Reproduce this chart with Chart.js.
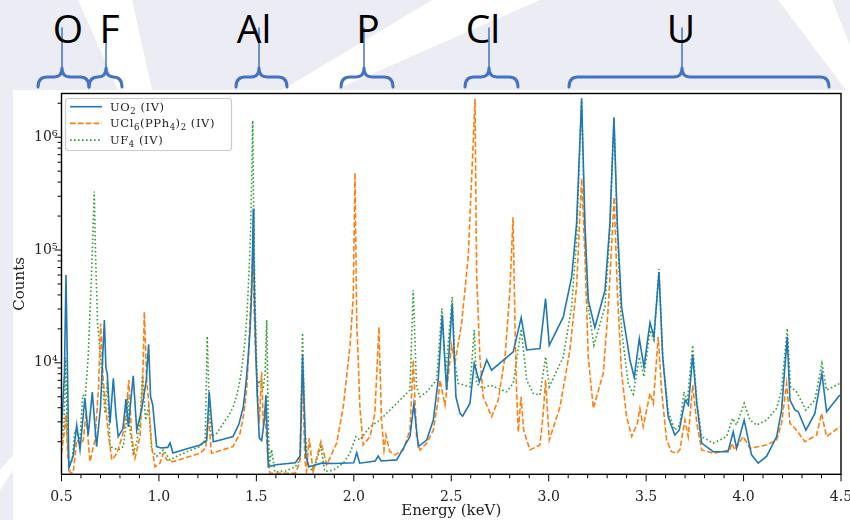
<!DOCTYPE html>
<html><head><meta charset="utf-8">
<script src="https://cdn.jsdelivr.net/npm/chart.js@4.4.1/dist/chart.umd.min.js"></script>
<style>
html,body{margin:0;padding:0;width:850px;height:520px;overflow:hidden;background:#ECECF4}
svg{position:absolute;left:0;top:0}
#fig{position:absolute;left:13px;top:90px;width:837px;height:430px;background:#fff}
#wrap{position:absolute;left:0;top:0;width:850px;height:520px}
</style></head><body>
<svg width="850" height="520">
<rect width="850" height="520" fill="#ECECF4"/>
<polygon points="78,0 132,0 152,90 118,90" fill="#ffffff"/>
<polygon points="432,0 540,0 335,90 282,90" fill="#ffffff"/>
<polygon points="778,0 832,0 850,45 850,90 846,90" fill="#ffffff"/>
<polygon points="0,470 13,455 13,470 0,490" fill="#ffffff"/>
</svg>
<div id="fig"></div>
<svg width="850" height="90" id="top">
<g stroke="#4472C4" fill="none" stroke-linecap="round" stroke-linejoin="round">
<g stroke-width="1.5">
<line x1="62" y1="28" x2="62" y2="69"/><line x1="106" y1="28" x2="106" y2="69"/>
<line x1="259" y1="28" x2="259" y2="69"/><line x1="364" y1="28" x2="364" y2="69"/>
<line x1="489" y1="28" x2="489" y2="69"/><line x1="682" y1="28" x2="682" y2="69"/>
</g>
<g stroke-width="3" id="braces"></g>
</g>
<g font-family="Open Sans" font-size="39" fill="#000" text-anchor="middle">
<text x="68" y="43">O</text><text x="109.5" y="43">F</text><text x="254" y="43">Al</text>
<text x="368" y="43">P</text><text x="483" y="43">Cl</text><text x="681" y="43">U</text>
</g>
</svg>
<div id="wrap"><canvas id="c" width="850" height="520"></canvas></div>
<script>
// ---- data (energy keV, counts) ----
const seriesLabels = ['UO\u2082 (IV)', 'UCl\u2086(PPh\u2084)\u2082 (IV)', 'UF\u2084 (IV)'];

const uo2E = [0.500,0.515,0.523,0.531,0.538,0.560,0.578,0.595,0.620,0.637,0.658,0.680,0.700,0.712,0.720,0.728,0.735,0.749,0.766,0.779,0.791,0.815,0.831,0.843,0.868,0.886,0.911,0.935,0.947,0.957,0.968,0.988,1.010,1.045,1.057,1.072,1.140,1.211,1.245,1.258,1.279,1.330,1.380,1.410,1.433,1.448,1.458,1.468,1.476,1.480,1.484,1.487,1.491,1.498,1.506,1.515,1.527,1.540,1.549,1.561,1.600,1.700,1.725,1.737,1.754,1.770,1.835,1.900,2.000,2.015,2.030,2.110,2.125,2.140,2.220,2.288,2.308,2.331,2.374,2.408,2.433,2.454,2.476,2.505,2.524,2.545,2.558,2.596,2.618,2.644,2.682,2.707,2.818,2.859,2.887,2.955,2.984,3.003,3.075,3.118,3.143,3.169,3.186,3.203,3.237,3.289,3.314,3.335,3.352,3.374,3.417,3.439,3.465,3.489,3.520,3.540,3.566,3.585,3.613,3.647,3.670,3.700,3.717,3.739,3.760,3.785,3.844,3.920,3.947,3.964,4.003,4.041,4.075,4.118,4.170,4.195,4.224,4.238,4.264,4.280,4.320,4.366,4.402,4.426,4.494];
const uo2C = [2500,8000,60000,8000,1170,1500,2800,1700,4900,2290,5500,1810,4000,12000,23900,9000,8000,2920,7300,3500,2220,2600,4770,2700,7670,2530,3810,7000,14600,5000,4250,1810,1760,1780,1950,1590,1720,1870,2050,5530,2000,2100,2220,2850,4080,7000,11300,20000,44000,90000,233000,95000,35000,11300,4500,2150,2050,3000,5180,1200,1250,1300,1500,11700,1480,1200,1290,1280,1300,1600,1290,1350,1490,1350,1380,2220,4300,1810,2070,3110,7030,26400,5730,33600,5000,3560,3370,4370,9880,6790,10600,8620,12500,25200,13000,13400,37100,14300,25500,57700,171000,2200000,171000,35900,20600,44000,171000,1500000,171000,31400,10600,7430,16400,9220,22800,17000,63800,11300,3340,2290,2530,4680,4220,11700,4370,1940,1630,1630,2450,1750,3110,1530,1290,1480,2220,3810,17000,4680,3810,3700,2530,3560,8060,3690,5180];

const uclE = [0.500,0.515,0.523,0.532,0.545,0.560,0.578,0.600,0.612,0.626,0.646,0.672,0.690,0.701,0.714,0.740,0.758,0.785,0.821,0.846,0.860,0.877,0.903,0.917,0.925,0.937,0.945,0.963,0.980,1.005,1.022,1.040,1.072,1.140,1.211,1.240,1.253,1.270,1.330,1.380,1.416,1.435,1.450,1.459,1.466,1.474,1.481,1.487,1.493,1.505,1.515,1.527,1.535,1.546,1.558,1.570,1.700,1.722,1.735,1.749,1.757,1.771,1.791,1.831,1.861,1.912,1.946,1.980,1.997,2.006,2.015,2.022,2.031,2.048,2.083,2.108,2.129,2.142,2.155,2.165,2.185,2.211,2.254,2.288,2.305,2.322,2.339,2.374,2.408,2.433,2.442,2.468,2.502,2.519,2.553,2.587,2.613,2.622,2.630,2.647,2.664,2.682,2.707,2.741,2.776,2.801,2.817,2.827,2.835,2.844,2.858,2.872,2.887,2.904,2.955,2.972,2.984,3.003,3.058,3.109,3.143,3.169,3.186,3.203,3.229,3.280,3.306,3.336,3.352,3.374,3.400,3.426,3.455,3.468,3.485,3.520,3.537,3.562,3.579,3.605,3.630,3.656,3.673,3.699,3.716,3.739,3.760,3.785,3.844,3.930,3.939,3.956,3.998,4.033,4.118,4.170,4.195,4.221,4.238,4.264,4.315,4.375,4.400,4.426,4.494];
const uclC = [1580,2500,3500,1500,1060,1060,2070,1900,2070,3560,1330,2070,6000,22300,7000,2370,1380,1580,2530,7030,2220,1430,2220,7030,28300,7030,5000,1810,1200,1290,1580,1380,1330,1450,1580,1760,3330,1580,1700,1810,2370,3500,5730,11000,22300,46000,93000,38000,15900,5730,2900,8320,3000,3330,1480,1050,1050,1300,7800,1380,1090,2140,1090,2000,1250,1940,4080,13900,38400,483000,22300,11300,4080,1870,2220,3560,20800,3110,1690,2290,1630,1530,1690,2530,10600,2220,1690,1940,2530,4680,7030,4220,14300,9900,22300,86600,930000,2190000,61900,11300,5000,4220,3330,4680,11300,44000,195000,22300,5730,2450,5000,2500,2070,1690,1870,3560,7030,2070,4080,13000,47000,430000,87000,11300,3950,8060,31400,295000,44000,8060,3330,2220,2900,3950,2720,5360,4370,17000,5730,2070,1630,1580,1690,3110,2220,6350,2910,1690,1580,1690,1940,1690,2220,1750,1870,2070,2910,6570,2910,2630,2000,2290,3560,2220,2720];

const uf4E = [0.500,0.513,0.521,0.529,0.538,0.555,0.569,0.578,0.595,0.609,0.622,0.637,0.651,0.660,0.668,0.675,0.685,0.706,0.723,0.735,0.749,0.766,0.791,0.817,0.834,0.840,0.852,0.868,0.886,0.903,0.915,0.932,0.947,0.963,0.988,1.022,1.057,1.090,1.150,1.211,1.237,1.248,1.259,1.270,1.296,1.364,1.381,1.400,1.416,1.430,1.442,1.452,1.458,1.466,1.471,1.476,1.481,1.485,1.489,1.494,1.498,1.505,1.515,1.535,1.545,1.553,1.561,1.566,1.578,1.595,1.650,1.700,1.725,1.737,1.749,1.766,1.791,1.831,1.851,1.895,1.946,1.980,2.011,2.031,2.083,2.134,2.220,2.288,2.305,2.322,2.339,2.374,2.425,2.452,2.471,2.505,2.519,2.536,2.596,2.618,2.630,2.664,2.699,2.784,2.818,2.859,2.887,2.921,2.955,2.984,3.003,3.075,3.118,3.143,3.169,3.186,3.203,3.232,3.289,3.314,3.335,3.352,3.374,3.408,3.434,3.465,3.489,3.520,3.540,3.566,3.585,3.613,3.647,3.673,3.694,3.711,3.739,3.760,3.785,3.844,3.913,3.944,3.964,4.003,4.033,4.067,4.118,4.170,4.195,4.224,4.241,4.272,4.320,4.366,4.402,4.426,4.494];
const uf4C = [1950,3000,11100,2500,1200,1380,2530,2400,2070,5180,5000,11300,44000,122000,330000,87000,22300,8620,3560,7030,1810,1760,1690,1810,3110,5200,2500,1580,1960,3110,8000,3110,4080,1690,1480,1690,1380,1480,1650,1810,2070,17200,3560,2220,2370,3560,4080,5200,7030,10300,15900,27000,44000,90000,171000,420000,1400000,330000,86600,32000,15900,5730,7030,6000,8000,23900,2910,1200,1700,1080,1100,1200,1400,18400,2530,1200,1090,1810,1090,1120,1290,1580,2220,2070,2710,3110,4370,5730,44000,6130,5000,5530,7030,30300,8060,38400,9880,6580,6130,19500,6580,5930,6350,5530,6580,20000,7030,5360,5180,11300,6130,11300,31400,122000,2200000,122000,31400,14300,31400,149000,1450000,149000,19500,6580,5280,11300,7520,19500,15900,68000,11300,3690,2530,2810,5530,4520,14300,4520,2220,1940,2220,3220,2810,4370,3110,2810,3110,3950,5730,20200,6130,5530,3810,4680,9900,5730,6570];

const xRange = [0.5, 4.5];
const yRange = [1028, 2.44e6];
const xMajorLabels = ['0.5','1.0','1.5','2.0','2.5','3.0','3.5','4.0','4.5'];
const xTickValues = [];
for (let i = 5; i <= 45; i++) xTickValues.push(i / 10);
const yTickValues = [];
for (let e = 3; e <= 6; e++) for (let m = 1; m <= 9; m++) { const v = m * Math.pow(10, e); if (v >= yRange[0] && v <= yRange[1]) yTickValues.push(v); }

// braces (decorations above the figure)
const braces = [[38,89,62],[89,122,106],[236,287,259],[341,393,364],[465,518,489],[569,829,682]];
const bg = document.getElementById('braces');
braces.forEach(([a,b,c]) => {
  const p = document.createElementNS('http://www.w3.org/2000/svg','path');
  p.setAttribute('d', `M${a},87 Q${a},77 ${a+9},77 L${c-8},77 Q${c},77 ${c},68 Q${c},77 ${c+8},77 L${b-9},77 Q${b},77 ${b},87`);
  bg.appendChild(p);
});

const toXY = (E, C) => E.map((e, i) => ({x: e, y: C[i]}));
const SUP = {'3':'\u00B3','4':'\u2074','5':'\u2075','6':'\u2076'};
const isMajorY = v => { const e = Math.round(Math.log10(v)); return Math.abs(v - Math.pow(10, e)) < 1e-6 * v; };
const isMajorX = v => Math.abs(v * 2 - Math.round(v * 2)) < 1e-6;

const axesPlugin = {
  id: 'mplAxes',
  afterDatasetsDraw(chart) {
    const {ctx, chartArea: a, scales: {x, y}} = chart;
    ctx.save();
    ctx.strokeStyle = '#000';
    ctx.lineWidth = 1;
    ctx.beginPath();
    x.ticks.forEach(t => {
      const px = x.getPixelForValue(t.value);
      const len = isMajorX(t.value) ? 7 : 4;
      ctx.moveTo(px, a.bottom); ctx.lineTo(px, a.bottom + len);
    });
    y.ticks.forEach(t => {
      const py = y.getPixelForValue(t.value);
      const len = isMajorY(t.value) ? 7 : 4;
      ctx.moveTo(a.left, py); ctx.lineTo(a.left - len, py);
    });
    ctx.stroke();
    ctx.lineWidth = 1.4;
    ctx.strokeRect(a.left, a.top, a.right - a.left, a.bottom - a.top);
    ctx.restore();
  }
};

const SUBS = {'\u2080':'0','\u2081':'1','\u2082':'2','\u2083':'3','\u2084':'4','\u2085':'5','\u2086':'6','\u2087':'7','\u2088':'8','\u2089':'9'};
function drawRich(ctx, text, x, y) {
  ctx.textBaseline = 'alphabetic';
  ctx.textAlign = 'left';
  for (const ch of text) {
    if (SUBS[ch]) {
      ctx.font = '8.5px "DejaVu Serif"';
      ctx.fillText(SUBS[ch], x, y + 7);
      x += ctx.measureText(SUBS[ch]).width + 0.5;
    } else {
      ctx.font = '11.5px "DejaVu Serif"';
      ctx.fillText(ch, x, y + 4);
      x += ctx.measureText(ch).width + 0.6;
    }
  }
}
const legendPlugin = {
  id: 'mplLegend',
  afterDraw(chart) {
    const ctx = chart.ctx;
    ctx.save();
    ctx.beginPath();
    ctx.roundRect(65.5, 98.5, 166, 52, 3);
    ctx.fillStyle = 'rgba(255,255,255,0.85)';
    ctx.fill();
    ctx.strokeStyle = '#cccccc';
    ctx.lineWidth = 1.2;
    ctx.stroke();
    chart.data.datasets.forEach((ds, i) => {
      const yy = 106.7 + i * 16.7;
      ctx.beginPath();
      ctx.setLineDash(ds.borderDash || []);
      ctx.strokeStyle = ds.borderColor;
      ctx.lineWidth = ds.borderWidth;
      ctx.moveTo(70, yy); ctx.lineTo(102, yy);
      ctx.stroke();
      ctx.setLineDash([]);
      ctx.fillStyle = '#222';
      drawRich(ctx, ds.label, 110, yy);
    });
    ctx.restore();
  }
};

const serif = 'DejaVu Serif';
new Chart(document.getElementById('c'), {
  type: 'line',
  data: {
    datasets: [
      {label: seriesLabels[0], data: toXY(uo2E, uo2C), borderColor: '#1f77b4', borderWidth: 1.6, pointRadius: 0, tension: 0, fill: false},
      {label: seriesLabels[1], data: toXY(uclE, uclC), borderColor: '#ff7f0e', borderWidth: 1.6, borderDash: [5.5, 2.4], pointRadius: 0, tension: 0, fill: false},
      {label: seriesLabels[2], data: toXY(uf4E, uf4C), borderColor: '#2ca02c', borderWidth: 1.6, borderDash: [1.6, 2.4], pointRadius: 0, tension: 0, fill: false}
    ]
  },
  options: {
    responsive: false, animation: false, devicePixelRatio: 1,
    layout: {padding: {left: 0, top: 93.5, right: 9, bottom: 0}},
    plugins: {legend: {display: false}, tooltip: {enabled: false}},
    scales: {
      x: {
        type: 'linear', min: xRange[0], max: xRange[1],
        grid: {display: false, drawTicks: false}, border: {display: false},
        afterBuildTicks: s => { s.ticks = xTickValues.map(v => ({value: v})); },
        afterFit: s => { s.height = 45.7; s.paddingLeft = 0; s.paddingRight = 0; },
        ticks: {autoSkip: false, maxRotation: 0, padding: 15, color: '#222', font: {family: serif, size: 14},
          callback: v => isMajorX(v) ? xMajorLabels[Math.round((v - 0.5) * 2)] : ''},
        title: {display: true, text: 'Energy (keV)', color: '#222', font: {family: serif, size: 15}, padding: {top: 0, bottom: 0}}
      },
      y: {
        type: 'logarithmic', min: yRange[0], max: yRange[1],
        grid: {display: false, drawTicks: false}, border: {display: false},
        afterBuildTicks: s => { s.ticks = yTickValues.map(v => ({value: v})); },
        afterFit: s => { s.width = 61.5; s.paddingTop = 0; s.paddingBottom = 0; },
        ticks: {autoSkip: false, padding: 4, color: '#222', font: {family: serif, size: 14},
          callback: v => isMajorY(v) ? '10' + SUP[String(Math.round(Math.log10(v)))] : ''},
        title: {display: true, text: 'Counts', color: '#222', font: {family: serif, size: 15}, padding: {top: 11, bottom: 0}}
      }
    }
  },
  plugins: [axesPlugin, legendPlugin]
});
</script>
</body></html>
